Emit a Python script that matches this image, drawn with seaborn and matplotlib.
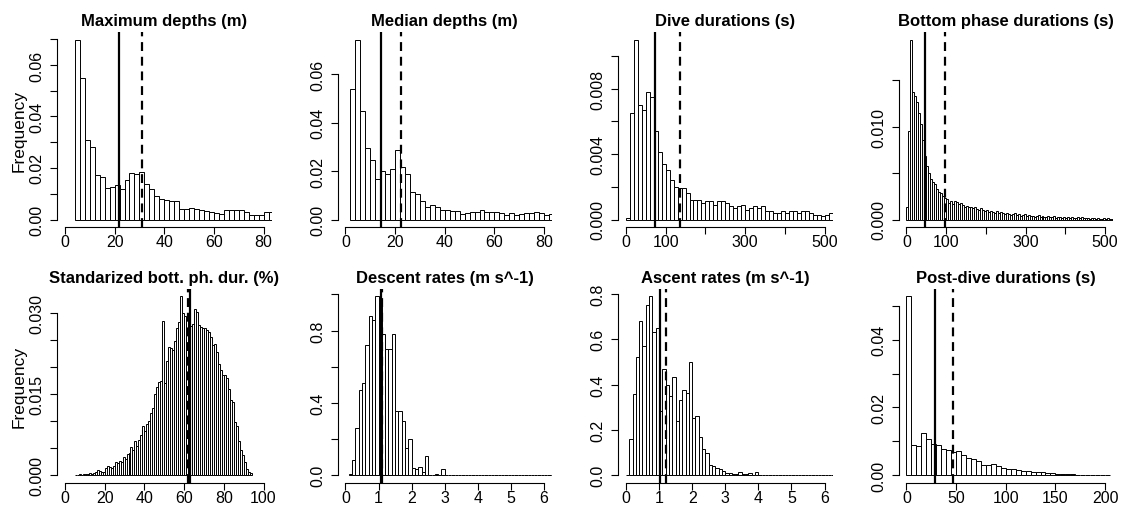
import numpy as np
import pandas as pd
import matplotlib
matplotlib.use("Agg")
import matplotlib.pyplot as plt
import seaborn as sns

# ---------------- data (density per bin) ----------------
titles = ["Maximum depths (m)", "Median depths (m)", "Dive durations (s)",
          "Bottom phase durations (s)", "Standarized bott. ph. dur. (%)",
          "Descent rates (m s^-1)", "Ascent rates (m s^-1)", "Post-dive durations (s)"]

# bin start / bin width per panel
bin_starts = [4, 2, 0, 0, 5, 0.1, 0.0, 0]
bin_widths = [2, 2, 10, 5, 1, 0.1, 0.1, 5]

maxdepth_freq = [0.0699, 0.0549, 0.0308, 0.0283, 0.0171, 0.0165, 0.0123, 0.0127, 0.0134, 0.0119,
                 0.0152, 0.0182, 0.0175, 0.0186, 0.0136, 0.0117, 0.0091, 0.0078, 0.0074, 0.0071,
                 0.0071, 0.0042, 0.0039, 0.0045, 0.0039, 0.0036, 0.0032, 0.0029, 0.0026, 0.0023,
                 0.0035, 0.0038, 0.0038, 0.0035, 0.0029, 0.0019, 0.0016, 0.0019, 0.0030, 0.0030]

median_freq = [0.0539, 0.0744, 0.0449, 0.0294, 0.0245, 0.0166, 0.0200, 0.0187, 0.0207, 0.0286,
               0.0218, 0.0187, 0.0115, 0.0104, 0.0076, 0.0053, 0.0058, 0.0051, 0.0041, 0.0039,
               0.0037, 0.0035, 0.0021, 0.0026, 0.0032, 0.0030, 0.0039, 0.0033, 0.0033, 0.0030,
               0.0028, 0.0019, 0.0025, 0.0019, 0.0022, 0.0025, 0.0025, 0.0029, 0.0026, 0.0017,
               0.0021]

dive_freq = [0.0001, 0.0065, 0.0110, 0.0070, 0.0067, 0.0078, 0.0075, 0.0054, 0.0041, 0.0034,
             0.0030, 0.0024, 0.0020, 0.0019, 0.0019, 0.0016, 0.0012, 0.0012, 0.0012, 0.0010,
             0.0011, 0.0011, 0.0009, 0.0011, 0.0011, 0.0010, 0.0008, 0.0007, 0.0008, 0.0009,
             0.0006, 0.0007, 0.0008, 0.0007, 0.0008, 0.0005, 0.0005, 0.0004, 0.0004, 0.0005,
             0.0004, 0.0005, 0.0005, 0.0004, 0.0005, 0.0005, 0.0004, 0.0003, 0.0003, 0.0002,
             0.0003, 0.0004]

bottom_freq = [0.0013, 0.0095, 0.0194, 0.0137, 0.0133, 0.0127, 0.0115, 0.0103, 0.0086, 0.0068,
               0.0058, 0.0050, 0.0044, 0.0040, 0.0038, 0.0033, 0.0030, 0.0029, 0.0025, 0.0023,
               0.0022, 0.0018, 0.0020, 0.0017, 0.0020, 0.0019, 0.0017, 0.0018, 0.0016, 0.0014,
               0.0015, 0.0013, 0.0014, 0.0012, 0.0013, 0.0011, 0.0010, 0.0012, 0.0010, 0.0009,
               0.0010, 0.0008, 0.0009, 0.0008, 0.0007, 0.0009, 0.0007, 0.0008, 0.0007, 0.0006,
               0.0007, 0.0006, 0.0005, 0.0006, 0.0007, 0.0005, 0.0006, 0.0004, 0.0005, 0.0006,
               0.0004, 0.0005, 0.0004, 0.0004, 0.0003, 0.0004, 0.0005, 0.0003, 0.0004, 0.0003,
               0.0003, 0.0004, 0.0003, 0.0003, 0.0004, 0.0002, 0.0003, 0.0003, 0.0002, 0.0003,
               0.0002, 0.0003, 0.0002, 0.0003, 0.0002, 0.0002, 0.0003, 0.0002, 0.0003, 0.0002,
               0.0002, 0.0002, 0.0001, 0.0002, 0.0002, 0.0001, 0.0002, 0.0001, 0.0001, 0.0002,
               0.0001, 0.0002, 0.0001, 0.0001]

stdbott_freq = [0.0001, 0.0001, 0.0002, 0.0001, 0.0002, 0.0003, 0.0002, 0.0005, 0.0003, 0.0004,
                0.0007, 0.0009, 0.0008, 0.0006, 0.0007, 0.0014, 0.0017, 0.0016, 0.0014, 0.0018,
                0.0025, 0.0023, 0.0026, 0.0024, 0.0033, 0.0030, 0.0039, 0.0042, 0.0052, 0.0047,
                0.0063, 0.0055, 0.0066, 0.0074, 0.0091, 0.0081, 0.0094, 0.0101, 0.0115, 0.0125,
                0.0151, 0.0163, 0.0172, 0.0174, 0.0285, 0.0171, 0.0212, 0.0237, 0.0236, 0.0231,
                0.0249, 0.0272, 0.0283, 0.0331, 0.0300, 0.0295, 0.0290, 0.0290, 0.0276, 0.0280,
                0.0308, 0.0302, 0.0277, 0.0274, 0.0272, 0.0272, 0.0268, 0.0265, 0.0255, 0.0240,
                0.0243, 0.0228, 0.0206, 0.0195, 0.0186, 0.0185, 0.0179, 0.0160, 0.0139, 0.0136,
                0.0099, 0.0092, 0.0063, 0.0046, 0.0038, 0.0025, 0.0012, 0.0007, 0.0005]

descent_freq = [0.007, 0.083, 0.26, 0.47, 0.51, 0.72, 0.88, 0.86, 0.99, 0.96,
                0.78, 0.70, 0.70, 0.78, 0.355, 0.355, 0.30, 0.15, 0.20, 0.04,
                0.037, 0.048, 0.018, 0.107, 0.0, 0.004, 0.007, 0.0, 0.035, 0.0,
                0.0, 0.0, 0.0, 0.003, 0.0, 0.0, 0.0, 0.0, 0.003, 0.0,
                0.0, 0.0, 0.0, 0.0, 0.0, 0.0, 0.0, 0.0, 0.0, 0.0,
                0.0, 0.0, 0.0, 0.0, 0.0, 0.0, 0.0, 0.0, 0.0, 0.0,
                0.0, 0.0]

ascent_freq = [0.003, 0.16, 0.36, 0.52, 0.68, 0.57, 0.75, 0.79, 0.63, 0.65,
               0.285, 0.47, 0.40, 0.35, 0.435, 0.24, 0.33, 0.375, 0.365, 0.50,
               0.255, 0.26, 0.17, 0.115, 0.10, 0.047, 0.04, 0.034, 0.03, 0.02,
               0.010, 0.009, 0.007, 0.007, 0.015, 0.004, 0.007, 0.009, 0.003, 0.016,
               0.003, 0.002, 0.002, 0.002, 0.0, 0.0, 0.0, 0.0, 0.0, 0.003,
               0.0, 0.0, 0.0, 0.0, 0.0, 0.0, 0.0, 0.0, 0.0, 0.0,
               0.0, 0.0, 0.0]

postdive_freq = [0.0528, 0.0088, 0.0086, 0.0126, 0.0108, 0.0093, 0.0088, 0.0079, 0.0076, 0.0069,
                 0.0072, 0.0059, 0.0051, 0.0049, 0.0042, 0.0031, 0.0031, 0.0034, 0.0028, 0.0023,
                 0.0020, 0.0020, 0.0015, 0.0013, 0.0013, 0.0010, 0.0010, 0.0010, 0.0008, 0.0007,
                 0.0004, 0.0005, 0.0004, 0.0003, 0.0002, 0.0001, 0.0001, 0.0001, 0.0001, 0.0001,
                 0.0001]

all_freqs = [maxdepth_freq, median_freq, dive_freq, bottom_freq,
             stdbott_freq, descent_freq, ascent_freq, postdive_freq]

# medians (solid) and means (dashed)
medians = [21.6, 14.3, 74, 46, 62.8, 1.06, 1.02, 29.2]
means = [31.2, 22.4, 137, 96, 62.2, 1.09, 1.20, 47.0]

# axis ticks and which tick labels are shown
x_ticks = [[0, 20, 40, 60, 80], [0, 20, 40, 60, 80],
           [0, 100, 200, 300, 400, 500], [0, 100, 200, 300, 400, 500],
           [0, 20, 40, 60, 80, 100], [0, 1, 2, 3, 4, 5, 6], [0, 1, 2, 3, 4, 5, 6],
           [0, 50, 100, 150, 200]]
x_labels = [["0", "20", "40", "60", "80"], ["0", "20", "40", "60", "80"],
            ["0", "100", "", "300", "", "500"], ["0", "100", "", "300", "", "500"],
            ["0", "20", "40", "60", "80", "100"], ["0", "1", "2", "3", "4", "5", "6"],
            ["0", "1", "2", "3", "4", "5", "6"], ["0", "50", "100", "150", "200"]]
y_ticks = [[0, 0.01, 0.02, 0.03, 0.04, 0.05, 0.06, 0.07], [0, 0.02, 0.04, 0.06],
           [0, 0.002, 0.004, 0.006, 0.008, 0.010], [0, 0.005, 0.010, 0.015],
           [0, 0.005, 0.010, 0.015, 0.020, 0.025, 0.030], [0, 0.2, 0.4, 0.6, 0.8, 1.0],
           [0, 0.2, 0.4, 0.6, 0.8], [0, 0.01, 0.02, 0.03, 0.04, 0.05]]
y_labels = [["0.00", "", "0.02", "", "0.04", "", "0.06", ""], ["0.00", "0.02", "0.04", "0.06"],
            ["0.000", "", "0.004", "", "0.008", ""], ["0.000", "", "0.010", ""],
            ["0.000", "", "", "0.015", "", "", "0.030"], ["0.0", "", "0.4", "", "0.8", ""],
            ["0.0", "0.2", "0.4", "0.6", "0.8"], ["0.00", "", "0.02", "", "0.04", ""]]
x_ranges = [(0, 80), (0, 80), (0, 500), (0, 500), (0, 100), (0, 6), (0, 6), (0, 200)]

# ---------------- figure ----------------
sns.set_theme(style="white")
plt.rcParams["font.family"] = ["Liberation Sans", "DejaVu Sans"]

W, H = 1122, 506
fig = plt.figure(figsize=(W / 100, H / 100), dpi=100)
fig.patch.set_facecolor("white")

col_w = 280.5
reg_left, reg_right = 57.0, 271.5
row_tops = [33.3, 290.0]
row_bottoms = [227.7, 483.5]

bar_style = dict(color="white", edgecolor="black", linewidth=0.7, alpha=1)

for i in range(8):
    r, c = divmod(i, 4)
    left = c * col_w + reg_left
    width = reg_right - reg_left
    top, bottom = row_tops[r], row_bottoms[r]
    ax = fig.add_axes([left / W, 1 - bottom / H, width / W, (bottom - top) / H])

    vals = np.array(all_freqs[i], dtype=float)
    n = len(vals)
    edges = np.round(bin_starts[i] + bin_widths[i] * np.arange(n + 1), 6)
    centers = (edges[:-1] + edges[1:]) / 2
    df = pd.DataFrame({"x": centers, "w": vals})
    try:
        sns.histplot(data=df, x="x", weights="w", bins=edges.tolist(), stat="count",
                     ax=ax, **bar_style)
    except Exception:
        for p in list(ax.patches):
            p.remove()
        sns.histplot(data=df, x="x", weights="w", binwidth=bin_widths[i],
                     binrange=(edges[0], edges[-1] - bin_widths[i] / 2), stat="count",
                     ax=ax, **bar_style)

    ax.axvline(medians[i], color="black", lw=1.6, zorder=5)
    ax.axvline(means[i], color="black", lw=1.6, ls=(0, (4, 2.6)), zorder=5)

    lo, hi = x_ranges[i]
    pad = 0.04 * (hi - lo)
    ax.set_xlim(lo - pad, hi + pad)
    ymax = vals.max()
    ax.set_ylim(-0.04 * ymax, 1.04 * ymax)

    ax.set_xticks(x_ticks[i])
    ax.set_xticklabels(x_labels[i])
    ax.set_yticks(y_ticks[i])
    ax.set_yticklabels(y_labels[i])
    for lab in ax.get_yticklabels():
        lab.set_rotation(90)
        lab.set_va("center")

    ax.tick_params(axis="both", direction="out", length=5, width=0.8, color="black",
                   labelsize=11.5, labelcolor="black", bottom=True, left=True)
    ax.tick_params(axis="x", pad=0.5)
    ax.tick_params(axis="y", pad=4)

    sns.despine(ax=ax)
    for s in ("left", "bottom"):
        ax.spines[s].set_color("black")
        ax.spines[s].set_linewidth(0.8)
    ax.spines["left"].set_bounds(y_ticks[i][0], y_ticks[i][-1])
    ax.spines["bottom"].set_bounds(x_ticks[i][0], x_ticks[i][-1])
    ax.set_facecolor("white")
    ax.grid(False)

    ax.set_title(titles[i], fontsize=12, fontweight="bold", pad=5, color="black")
    ax.set_xlabel("")
    if c == 0:
        ax.set_ylabel("Frequency", fontsize=12.5, color="black")
        ax.yaxis.set_label_coords(-(reg_left - 27) / width, 0.5)
    else:
        ax.set_ylabel("")

fig.savefig("out.png", dpi=100, facecolor="white")
